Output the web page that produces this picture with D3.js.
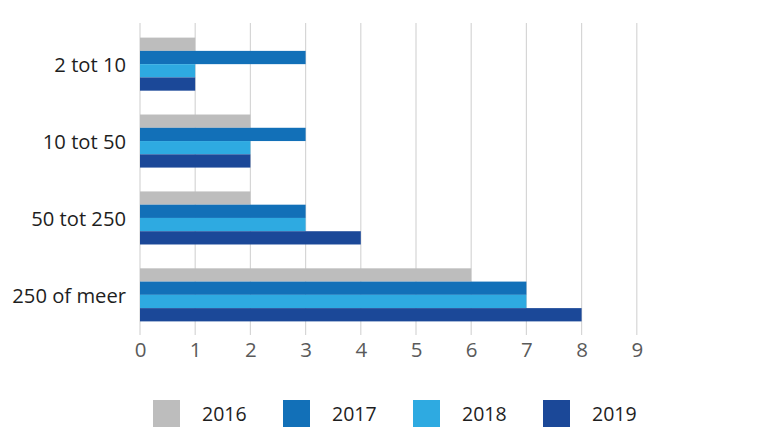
<!DOCTYPE html>
<html>
<head>
<meta charset="utf-8">
<script src="https://cdn.jsdelivr.net/npm/d3@7"></script>
<style>
  html, body { margin: 0; padding: 0; background: #ffffff; }
  svg { display: block; font-family: "Open Sans", "Noto Sans", sans-serif; }
</style>
</head>
<body>
<svg id="chart" width="767" height="448"></svg>
<script>
const categories = ["2 tot 10", "10 tot 50", "50 tot 250", "250 of meer"];
const years = ["2016", "2017", "2018", "2019"];
const values2016 = [1, 2, 2, 6];
const values2017 = [3, 3, 3, 7];
const values2018 = [1, 2, 3, 7];
const values2019 = [1, 2, 4, 8];
const xTicks = [0, 1, 2, 3, 4, 5, 6, 7, 8, 9];
const colors = ["#bdbdbd", "#1270b8", "#2eaae1", "#1b4898"];

const seriesValues = [values2016, values2017, values2018, values2019];

const svg = d3.select("#chart");

const x = d3.scaleLinear().domain([0, 9]).range([140, 140 + 9 * 55.2]);
const y0 = d3.scaleBand().domain(categories).range([23, 336]).paddingInner(0.31).paddingOuter(0.19);
const y1 = d3.scaleBand().domain(years).range([0, y0.bandwidth()]);

// gridlines
svg.append("g")
  .selectAll("line")
  .data(xTicks)
  .join("line")
  .attr("x1", d => x(d)).attr("x2", d => x(d))
  .attr("y1", 23).attr("y2", 335)
  .attr("stroke", "#d6d6d6")
  .attr("stroke-width", 1.2);

// bars
const groups = svg.append("g")
  .selectAll("g")
  .data(categories)
  .join("g")
  .attr("transform", d => `translate(0,${y0(d)})`);

groups.selectAll("rect")
  .data((c, ci) => years.map((yr, si) => ({ yr, si, v: seriesValues[si][ci] })))
  .join("rect")
  .attr("x", x(0))
  .attr("y", d => y1(d.yr))
  .attr("width", d => x(d.v) - x(0))
  .attr("height", y1.bandwidth())
  .attr("fill", d => colors[d.si]);

// category labels
svg.append("g")
  .selectAll("text")
  .data(categories)
  .join("text")
  .attr("x", 126)
  .attr("y", d => y0(d) + y0.bandwidth() / 2)
  .attr("text-anchor", "end")
  .attr("dominant-baseline", "central")
  .attr("font-size", 20.2)
  .attr("fill", "#1e1e1e")
  .text(d => d);

// x axis tick labels
const xAxis = d3.axisBottom(x).tickValues(xTicks).tickSize(0).tickPadding(0);
const ax = svg.append("g").attr("transform", "translate(0,336)").call(xAxis);
ax.select(".domain").remove();
ax.selectAll("text")
  .attr("font-size", 20.5)
  .attr("font-family", "\"Open Sans\", \"Noto Sans\", sans-serif")
  .attr("fill", "#5a5a5a")
  .attr("dy", "0")
  .attr("y", 21);

// legend
const legend = svg.append("g")
  .selectAll("g")
  .data(years)
  .join("g")
  .attr("transform", (d, i) => `translate(${153 + i * 130},400)`);
legend.append("rect")
  .attr("width", 27).attr("height", 27)
  .attr("fill", (d, i) => colors[i]);
legend.append("text")
  .attr("x", 49)
  .attr("y", 13.5)
  .attr("dominant-baseline", "central")
  .attr("font-size", 19.5)
  .attr("fill", "#1e1e1e")
  .text(d => d);
</script>
</body>
</html>
